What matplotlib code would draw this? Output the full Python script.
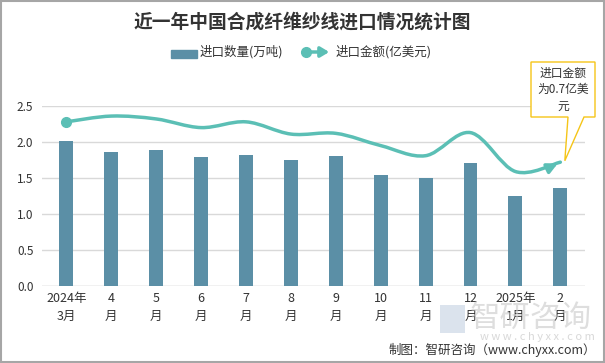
import matplotlib
matplotlib.use("Agg")
import matplotlib.pyplot as plt
import numpy as np
from matplotlib.path import Path
from matplotlib.patches import PathPatch, Rectangle, Polygon, FancyArrowPatch

plt.rcParams['font.family'] = ['Noto Sans CJK SC', 'DejaVu Sans']

categories = ["2024年\n3月", "4\n月", "5\n月", "6\n月", "7\n月", "8\n月", "9\n月",
              "10\n月", "11\n月", "12\n月", "2025年\n1月", "2\n月"]
qty = [2.01, 1.86, 1.89, 1.79, 1.82, 1.75, 1.81, 1.54, 1.50, 1.71, 1.25, 1.36]
amount = [2.28, 2.36, 2.32, 2.20, 2.28, 2.11, 2.12, 1.95, 1.81, 2.13, 1.59, 1.72]
yticks = [0.0, 0.5, 1.0, 1.5, 2.0, 2.5]

bar_color = "#5b8fa6"
line_color = "#5bbfb5"

fig = plt.figure(figsize=(6.05, 3.63), dpi=100)
ax = fig.add_axes([0.069, 0.212, 0.898, 0.496])
x = np.arange(len(categories))
ax.bar(x, qty, width=0.31, color=bar_color, zorder=2)

# smooth curve via cubic Bezier (Catmull-Rom control points)
pts = np.column_stack([x, amount]).astype(float)
verts = [tuple(pts[0])]
codes = [Path.MOVETO]
t = 1/6
for i in range(len(pts) - 1):
    p0 = pts[i - 1] if i > 0 else pts[i]
    p1 = pts[i]
    p2 = pts[i + 1]
    p3 = pts[i + 2] if i + 2 < len(pts) else pts[i + 1]
    c1 = p1 + (p2 - p0) * t
    c2 = p2 - (p3 - p1) * t
    verts += [tuple(c1), tuple(c2), tuple(p2)]
    codes += [Path.CURVE4] * 3
ax.add_patch(PathPatch(Path(verts, codes), fill=False, edgecolor=line_color, lw=2.5, zorder=3,
                       capstyle='round'))
ax.plot([x[0]], [amount[0]], 'o', color=line_color, ms=7, zorder=4)
ax.annotate("", xy=(x[-1], amount[-1]), xytext=(x[-1] - 0.3, amount[-1] - 0.09),
            arrowprops=dict(arrowstyle="-|>,head_length=0.6,head_width=0.3", color=line_color, lw=2.5),
            zorder=4)

ax.set_xlim(-0.55, len(categories) - 0.45)
ax.set_ylim(0, 2.5)
ax.set_yticks(yticks)
ax.set_yticklabels([f"{v:.1f}" for v in yticks], fontsize=8.5, color="#333333")
ax.set_xticks(x)
ax.set_xticklabels(categories, fontsize=9, color="#333333", linespacing=1.5)
ax.tick_params(length=0, pad=6)
ax.tick_params(axis='x', pad=4)
ax.grid(axis='y', color="#d9d9d9", lw=1, zorder=0)
ax.set_axisbelow(True)
for s in ax.spines.values():
    s.set_visible(False)
ax.axhline(0, color="#d9d9d9", lw=1, zorder=1)

fig.text(0.5, 0.938, "近一年中国合成纤维纱线进口情况统计图", ha='center', va='center',
         fontsize=13.5, fontweight='bold', color="#333333")

# legend
W, H = 605, 363
def fx(px): return px / W
def fy(py): return 1 - py / H
fig.patches.append(Rectangle((fx(171), fy(58)), fx(26), 8 / H, color=bar_color, transform=fig.transFigure))
fig.text(fx(200), fy(52), "进口数量(万吨)", ha='left', va='center', fontsize=9, color="#333333")
fig.add_artist(FancyArrowPatch((fx(304), fy(52)), (fx(332), fy(52)), transform=fig.transFigure,
                               arrowstyle="-|>,head_length=0.5,head_width=0.3", color=line_color, lw=2.5,
                               mutation_scale=10))
fig.add_artist(plt.Line2D([fx(306)], [fy(52)], marker='o', color=line_color, ms=7, transform=fig.transFigure))
fig.text(fx(336), fy(52), "进口金额(亿美元)", ha='left', va='center', fontsize=9, color="#333333")

# callout
fig.canvas.draw()
tipx, tipy = fig.transFigure.inverted().transform(ax.transData.transform((x[-1] + 0.1, amount[-1] + 0.02)))
bl, br, bt, bb = fx(531), fx(595), fy(62), fy(117)
poly = [(bl, bt), (br, bt), (br, bb), (fx(584), bb), (tipx, tipy), (fx(568), bb), (bl, bb)]
fig.patches.append(Polygon(poly, closed=True, facecolor='white', edgecolor="#f5c518", lw=1,
                           transform=fig.transFigure, zorder=5))
fig.text(fx(563), fy(89.5), "进口金额\n为0.7亿美\n元", ha='center', va='center', fontsize=8.5,
         color="#333333", linespacing=1.35, zorder=6)

# watermark
fig.text(fx(470), fy(318), "智研咨询", ha='left', va='center', fontsize=22, color="#c8c8c8", alpha=0.6)
fig.patches.append(Rectangle((fx(440), fy(333)), fx(25), 28 / H, facecolor="#b8c8dc", alpha=0.5,
                             transform=fig.transFigure))
fig.text(fx(480), fy(337), "w w w . c h y x x . c o m", ha='left', va='center', fontsize=8, color="#c8c8c8",
         alpha=0.7)

fig.text(fx(596), fy(350), "制图：智研咨询（www.chyxx.com）", ha='right', va='center', fontsize=9,
         color="#333333")

fig.patches.append(Rectangle((0.001, 0.002), 0.997, 0.996, fill=False, edgecolor="#a6a6a6", lw=1.5,
                             transform=fig.transFigure))

fig.savefig("out.png", dpi=100)
